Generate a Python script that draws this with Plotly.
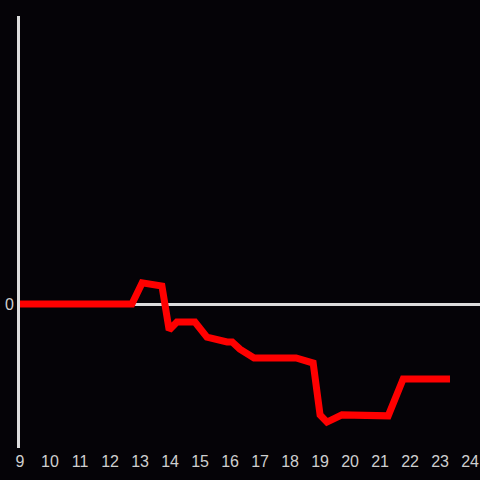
import plotly.graph_objects as go

hours = [9, 12.73, 13.07, 13.4, 13.73, 13.97, 14.23, 14.83, 15.23, 15.9, 16.07, 16.33, 16.8,
         18.2, 18.77, 19.0, 19.23, 19.73, 21.07, 21.27, 21.77, 23.33]
values = [0, 0, 0.44, 0.42, 0.375, -0.54, -0.375, -0.375, -0.69, -0.79, -0.79, -0.94, -1.125,
          -1.125, -1.23, -2.31, -2.46, -2.31, -2.31, -2.33, -1.56, -1.56]
x_ticks = list(range(9, 25))
y_ticks = [0]

fig = go.Figure(go.Scatter(x=hours, y=values, mode="lines",
                           line=dict(color="#ff0000", width=7), hoverinfo="skip"))
fig.update_layout(
    width=480, height=480,
    paper_bgcolor="#050307", plot_bgcolor="#050307",
    margin=dict(l=20, r=0, t=16, b=32),
    showlegend=False,
    font=dict(family="Liberation Sans Narrow, Liberation Sans, Arial, sans-serif", size=16, color="#cfcfcf"),
)
fig.update_xaxes(range=[9, 24.33], tickvals=x_ticks, ticktext=[str(t) for t in x_ticks],
                 showgrid=False, zeroline=False, showline=False, ticks="", ticklabelstandoff=2)
fig.update_yaxes(range=[-3, 6], tickvals=y_ticks, ticktext=["0"], showgrid=False,
                 zeroline=True, zerolinecolor="#dcdcdc", zerolinewidth=3,
                 showline=True, linecolor="#dcdcdc", linewidth=3, ticks="")
fig.write_html("out.html", config={"displayModeBar": False},
               post_script="document.body.style.margin='0';document.body.style.overflow='hidden';document.body.style.background='#050307';")
